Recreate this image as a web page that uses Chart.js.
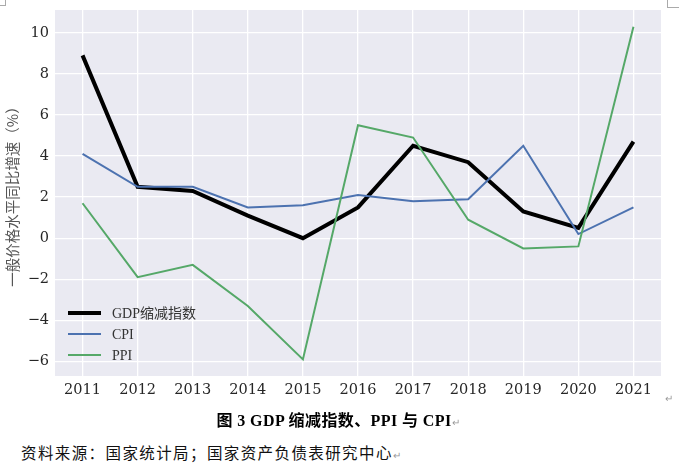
<!DOCTYPE html>
<html>
<head>
<meta charset="utf-8">
<script src="https://cdn.jsdelivr.net/npm/chart.js@4"></script>
<style>
  html,body{margin:0;padding:0;background:#fff;width:679px;height:476px;overflow:hidden;position:relative;}
  #wrap{position:absolute;left:0;top:0;width:679px;height:400px;}
  .cap{position:absolute;left:4px;width:668px;top:407px;text-align:center;font-family:"Liberation Serif","Noto Sans CJK SC",serif;font-weight:bold;font-size:16px;letter-spacing:0.4px;color:#000;}
  .src{position:absolute;left:21px;top:441px;font-family:"Noto Sans CJK SC",sans-serif;font-size:15.5px;letter-spacing:1.4px;color:#111;}
  .ret{color:#999;font-size:10px;font-weight:normal;letter-spacing:0;}
  .cm1{position:absolute;left:0;top:0;width:5px;height:5px;border-right:1px solid #aaa;border-bottom:1px solid #aaa;}
  .cm2{position:absolute;left:667px;top:0;width:12px;height:7px;border-left:1px solid #aaa;border-bottom:1px solid #aaa;}
  .ret2{position:absolute;left:665px;top:393px;color:#999;font-size:10px;}
</style>
</head>
<body>
<div class="cm1"></div><div class="cm2"></div>
<div id="wrap"><canvas id="c" width="679" height="400"></canvas></div>
<div class="ret2">↵</div>
<div class="cap">图 3 GDP 缩减指数、PPI 与 CPI<span class="ret">↵</span></div>
<div class="src">资料来源：国家统计局；国家资产负债表研究中心<span class="ret">↵</span></div>
<script>
const years = ["2011","2012","2013","2014","2015","2016","2017","2018","2019","2020","2021"];
const gdpDeflator = [8.9, 2.5, 2.3, 1.1, 0.0, 1.5, 4.5, 3.7, 1.3, 0.5, 4.7];
const cpi = [4.1, 2.5, 2.5, 1.5, 1.6, 2.1, 1.8, 1.9, 4.5, 0.2, 1.5];
const ppi = [1.7, -1.9, -1.3, -3.3, -5.9, 5.5, 4.9, 0.9, -0.5, -0.4, 10.3];
const seriesNames = ["GDP缩减指数", "CPI", "PPI"];
const yTitle = "一般价格水平同比增速（%）";

const legendPlugin = {
  id: 'innerLegend',
  afterDatasetsDraw(chart) {
    const ctx = chart.ctx;
    const ds = chart.data.datasets;
    ctx.save();
    [0,1,2].forEach((i, k) => {
      const y = 313 + k * 21;
      ctx.beginPath();
      ctx.strokeStyle = ds[i].borderColor;
      ctx.lineWidth = ds[i].borderWidth;
      ctx.lineCap = 'butt';
      ctx.moveTo(68, y);
      ctx.lineTo(101, y);
      ctx.stroke();
      ctx.fillStyle = '#333';
      ctx.font = '14px "Liberation Serif", "Noto Sans CJK SC", serif';
      ctx.textBaseline = 'middle';
      ctx.textAlign = 'left';
      ctx.fillText(ds[i].label, 112, y + 1);
    });
    ctx.restore();
  }
};

const bgPlugin = {
  id: 'plotBg',
  beforeDraw(chart) {
    const a = chart.chartArea, ctx = chart.ctx;
    ctx.save();
    ctx.fillStyle = '#EAEAF2';
    ctx.fillRect(a.left, a.top, a.right - a.left, a.bottom - a.top);
    ctx.restore();
  }
};

new Chart(document.getElementById('c'), {
  type: 'line',
  data: {
    labels: years,
    datasets: [
      {label: seriesNames[0], data: gdpDeflator, borderColor: '#000000', borderWidth: 4, pointRadius: 0, tension: 0, order: 3},
      {label: seriesNames[1], data: cpi, borderColor: '#4C72B0', borderWidth: 2, pointRadius: 0, tension: 0, order: 2},
      {label: seriesNames[2], data: ppi, borderColor: '#55A868', borderWidth: 2, pointRadius: 0, tension: 0, order: 1}
    ]
  },
  options: {
    responsive: false,
    animation: false,
    layout: {padding: {left: 0, top: 10, right: 18, bottom: 0}},
    plugins: {legend: {display: false}, tooltip: {enabled: false}},
    scales: {
      x: {
        type: 'category',
        offset: true,
        grid: {offset: false, color: '#FFFFFF', lineWidth: 1.3, drawTicks: false},
        border: {display: false},
        ticks: {color: '#262626', padding: 6, font: {family: '"DejaVu Serif", serif', size: 14.5}, maxRotation: 0, autoSkip: false},
        afterFit(s) { s.height = 24; s.paddingLeft = 0; s.paddingRight = 0; }
      },
      y: {
        min: -6.71, max: 11.11,
        grid: {color: '#FFFFFF', lineWidth: 1.3, drawTicks: false},
        border: {display: false},
        ticks: {stepSize: 2, includeBounds: false, color: '#262626', padding: 6, font: {family: '"DejaVu Serif", serif', size: 14.5},
          callback: v => (v < 0 ? '\u2212' + Math.abs(v) : String(v))},
        title: {display: true, text: yTitle, color: '#555', font: {family: '"Noto Sans CJK SC", sans-serif', size: 14.5}, padding: {top: 4, bottom: 0}},
        afterFit(s) { s.width = 55; s.paddingTop = 0; s.paddingBottom = 0; }
      }
    }
  },
  plugins: [bgPlugin, legendPlugin]
});
</script>
</body>
</html>
